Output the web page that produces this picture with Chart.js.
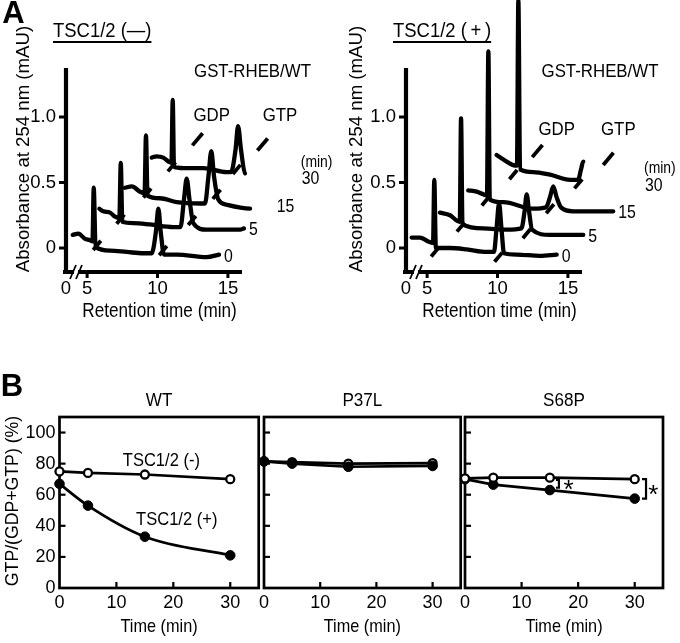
<!DOCTYPE html>
<html><head><meta charset="utf-8">
<script src="https://cdn.jsdelivr.net/npm/chart.js@4.4.1/dist/chart.umd.min.js"></script>
<style>
html,body{margin:0;padding:0;background:#fff;width:680px;height:643px;overflow:hidden;}
canvas{position:absolute;}
</style></head><body>
<canvas id="a1" width="340" height="330" style="left:0;top:0"></canvas>
<canvas id="a2" width="340" height="330" style="left:340px;top:0"></canvas>
<canvas id="b1" width="265" height="273" style="left:0;top:370px"></canvas>
<canvas id="b2" width="212" height="273" style="left:255px;top:370px"></canvas>
<canvas id="b3" width="224" height="273" style="left:456px;top:370px"></canvas>
<script>
// ---------------- DATA ----------------
// Panel A: retention time axis is broken; first tick (3.5) is labelled "0"
const retTicks = [3.5, 5, 10, 15];
const retTickLabels = ['0', '5', '10', '15'];
const absTicks = [0, 0.5, 1.0];
const absTickLabels = ['0', '0.5', '1.0'];
const traceTimes = ['0', '5', '15', '30'];

// TSC1/2 (-) traces, [retention time (offset), absorbance (offset)]
const minus0 = [[3.98,0.10],[4.37,0.11],[4.85,0.07],[5.20,0.06],[5.38,0.05],[5.47,0.46],[5.60,0.01],[6.63,-0.02],[7.81,-0.03],[8.99,-0.04],[9.59,-0.04],[9.88,0.12],[10.06,0.30],[10.23,0.12],[10.46,-0.05],[11.36,-0.05],[13.49,-0.07],[14.37,-0.05]];
const minus5 = [[5.87,0.30],[6.15,0.28],[6.63,0.27],[6.98,0.24],[7.29,0.23],[7.39,0.65],[7.50,0.20],[8.28,0.19],[9.47,0.18],[11.12,0.16],[11.63,0.16],[11.88,0.37],[12.07,0.53],[12.27,0.37],[12.54,0.19],[13.49,0.14],[15.86,0.14],[16.14,0.15]];
const minus15 = [[7.69,0.46],[8.17,0.47],[8.76,0.43],[9.08,0.42],[9.18,0.86],[9.29,0.40],[10.18,0.38],[11.36,0.35],[13.02,0.34],[13.37,0.34],[13.62,0.55],[13.82,0.74],[14.01,0.55],[14.32,0.37],[14.91,0.33],[16.57,0.30],[18.11,0.33]];
const minus30 = [[9.59,0.69],[9.94,0.70],[10.41,0.69],[10.77,0.66],[10.99,0.65],[11.08,1.13],[11.17,0.62],[11.83,0.61],[13.25,0.61],[14.91,0.58],[15.22,0.58],[15.54,0.75],[15.72,0.93],[15.93,0.75],[16.21,0.57],[16.80,0.56],[18.22,0.53],[19.89,0.54]];
// TSC1/2 (+) traces
const plus0 = [[3.90,0.08],[4.49,0.08],[5.08,0.05],[5.42,0.04],[5.51,0.52],[5.62,0.00],[6.63,0.00],[7.81,-0.01],[9.23,-0.03],[9.75,-0.03],[9.93,0.15],[10.11,0.34],[10.28,0.15],[10.46,-0.04],[11.36,-0.05],[13.02,-0.06],[14.20,-0.05]];
const plus5 = [[5.91,0.27],[6.63,0.25],[7.10,0.21],[7.32,0.20],[7.41,0.99],[7.51,0.18],[8.99,0.15],[10.65,0.14],[11.70,0.15],[11.92,0.28],[12.07,0.41],[12.24,0.28],[12.45,0.14],[13.73,0.10],[16.09,0.10]];
const plus15 = [[7.92,0.44],[8.52,0.43],[8.99,0.41],[9.25,0.40],[9.35,1.50],[9.45,0.37],[10.41,0.35],[12.54,0.30],[13.44,0.31],[13.73,0.39],[13.96,0.47],[14.19,0.39],[14.51,0.31],[15.38,0.28],[18.22,0.28]];
const plus30 = [[9.94,0.71],[10.65,0.66],[11.24,0.63],[11.38,0.63],[11.48,1.89],[11.60,0.60],[12.54,0.58],[13.73,0.56],[15.15,0.52],[15.72,0.52],[15.93,0.60],[16.09,0.66],[16.28,0.60],[16.50,0.50],[17.28,0.48],[18.46,0.47],[20.12,0.49]];
// GDP / GTP position marks on each trace
const minusMarks = [[5.70,0.02],[10.39,-0.02],[7.37,0.22],[12.45,0.21],[9.27,0.42],[14.20,0.41],[11.01,0.62],[15.62,0.60]];
const minusLabelMarks = [[12.84,0.83],[17.46,0.79]];
const plusMarks = [[5.56,-0.03],[10.06,-0.07],[7.39,0.16],[12.07,0.11],[9.16,0.36],[13.73,0.30],[11.12,0.56],[15.74,0.49]];
const plusLabelMarks = [[12.83,0.74],[17.87,0.68]];
const peakNames = ['GDP', 'GTP'];
const minusPeakNamePos = [[13.85,1.01],[18.70,1.01]];
const plusPeakNamePos = [[14.20,0.90],[18.58,0.90]];

// Panel B
const timePoints = [0, 5, 15, 30];
const timeTicks = [0, 10, 20, 30];
const pctTicks = [0, 20, 40, 60, 80, 100];
const wtMinus = [75, 74, 73, 70];
const wtPlus = [67, 53, 33, 21];
const p37lMinus = [81.5, 81, 80, 80.3];
const p37lPlus = [81.5, 80, 78, 78.5];
const s68pMinus = [70.5, 71, 71, 70];
const s68pPlus = [70, 66.5, 63, 57.5];

// ---------------- RENDERING ----------------
const FONT = '"Liberation Sans", Arial, Helvetica, sans-serif';
Chart.defaults.font.family = FONT;
Chart.defaults.color = '#000';

function seg(ctx, x1, y1, x2, y2) { ctx.beginPath(); ctx.moveTo(x1, y1); ctx.lineTo(x2, y2); ctx.stroke(); }
function slashAt(ctx, cx, cy, len) { const dx = len * 0.32, dy = len * 0.38; seg(ctx, cx - dx, cy + dy, cx + dx, cy - dy); }
// condensed text helper (reference lettering is narrower than Arial)
function txt(ctx, s, x, y, size, sx, align, opt) {
  opt = opt || {};
  ctx.save();
  ctx.translate(x, y);
  if (opt.rot) ctx.rotate(opt.rot);
  ctx.scale(sx, 1);
  ctx.font = (opt.bold ? 'bold ' : '') + size + 'px ' + FONT;
  ctx.textAlign = align; ctx.textBaseline = opt.baseline || 'middle';
  ctx.fillStyle = '#000';
  ctx.fillText(s, 0, 0);
  const w = ctx.measureText(s).width * sx;
  ctx.restore();
  return w;
}

const panelAPlugin = {
  id: 'panelA',
  afterDatasetsDraw(chart, args, o) {
    const { ctx, chartArea: ca, scales: { x, y } } = chart;
    const X = v => x.getPixelForValue(v), Y = v => y.getPixelForValue(v);
    ctx.save();
    ctx.strokeStyle = '#000'; ctx.fillStyle = '#000'; ctx.lineCap = 'butt';
    ctx.lineWidth = 4.2;
    seg(ctx, ca.left, ca.top, ca.left, ca.bottom + 2);
    seg(ctx, ca.left - 3, ca.bottom, ca.right, ca.bottom);
    ctx.lineWidth = 3;
    absTicks.forEach(v => seg(ctx, ca.left - 7, Y(v), ca.left, Y(v)));
    retTicks.slice(1).forEach(v => seg(ctx, X(v), ca.bottom, X(v), ca.bottom + 6));
    // axis break
    ctx.fillStyle = '#fff';
    ctx.fillRect(ca.left + 8, ca.bottom - 3, 4, 6);
    ctx.lineWidth = 1.8;
    seg(ctx, ca.left + 4, ca.bottom + 7, ca.left + 10, ca.bottom - 7);
    seg(ctx, ca.left + 10, ca.bottom + 7, ca.left + 16, ca.bottom - 7);
    // peak marks
    ctx.lineWidth = 3.8;
    o.marks.forEach(p => slashAt(ctx, X(p[0]), Y(p[1]), 12));
    o.labelMarks.forEach(p => slashAt(ctx, X(p[0]), Y(p[1]), 16));
    o.peakPos.forEach((p, i) => txt(ctx, peakNames[i], X(p[0]), Y(p[1]), 18.5, 0.91, 'center'));
    txt(ctx, 'GST-RHEB/WT', o.gstX, 71.5, 18.5, 0.91, 'center');
    // trace labels
    const n = chart.data.datasets.length;
    chart.data.datasets.forEach((ds, i) => {
      const pts = chart.getDatasetMeta(i).data;
      const last = pts[pts.length - 1];
      txt(ctx, traceTimes[i], last.x + 5, last.y + 2, 18, 0.88, 'left');
      if (i === n - 1) txt(ctx, '(min)', last.x + 4, last.y - 15, 16, 0.87, 'left');
    });
    // axis titles
    txt(ctx, 'Retention time (min)', 159.5, 312, 19.5, 0.88, 'center');
    txt(ctx, 'Absorbance at 254 nm (mAU)', o.yTitleX, 149, 19, 0.98, 'center', { rot: -Math.PI / 2 });
    // title with underline
    const w = txt(ctx, o.title, 53, 31, 20.5, 0.9, 'left');
    ctx.lineWidth = 2;
    seg(ctx, 53, 42, 53 + w, 42);
    if (o.letter) txt(ctx, o.letter, 13.5, 14.5, 31, 1, 'center', { bold: true });
    ctx.restore();
  }
};

function makeA(id, traces, o) {
  new Chart(document.getElementById(id), {
    type: 'line',
    data: { datasets: traces.map(t => ({
      data: t.map(p => ({ x: p[0], y: p[1] })),
      borderColor: '#000', borderWidth: 4.3, pointRadius: 0, fill: false,
      cubicInterpolationMode: 'monotone', clip: false,
      borderJoinStyle: 'round', borderCapStyle: 'round'
    })) },
    options: {
      responsive: false, animation: false, devicePixelRatio: 1, events: [],
      layout: { padding: { left: 0, top: 68, right: 98, bottom: 0 } },
      elements: { line: { capBezierPoints: false } },
      plugins: { legend: { display: false }, tooltip: { enabled: false }, panelA: o },
      scales: {
        x: { type: 'linear', min: 3.5, max: 16, grid: { display: false, drawTicks: false }, border: { display: false },
          afterBuildTicks: s => { s.ticks = retTicks.map(v => ({ value: v })); },
          afterFit: s => { s.height = 58; },
          ticks: { autoSkip: false, maxRotation: 0, padding: 6, font: { size: 18.5 }, color: '#000',
            callback: (v, i) => retTickLabels[i] } },
        y: { type: 'linear', min: -0.183, max: 1.374, grid: { display: false, drawTicks: false }, border: { display: false },
          afterBuildTicks: s => { s.ticks = absTicks.map(v => ({ value: v })); },
          afterFit: s => { s.width = 66; },
          ticks: { autoSkip: false, padding: 10, font: { size: 18.5 }, color: '#000',
            callback: (v, i) => absTickLabels[i] } }
      }
    },
    plugins: [panelAPlugin]
  });
}

makeA('a1', [minus0, minus5, minus15, minus30], {
  letter: 'A', title: 'TSC1/2 (\u2014)', gstX: 252.5, yTitleX: 24,
  marks: minusMarks, labelMarks: minusLabelMarks, peakPos: minusPeakNamePos
});
makeA('a2', [plus0, plus5, plus15, plus30], {
  letter: null, title: 'TSC1/2 (\u2009+\u2009)', gstX: 260, yTitleX: 17,
  marks: plusMarks, labelMarks: plusLabelMarks, peakPos: plusPeakNamePos
});

const panelBPlugin = {
  id: 'panelB',
  beforeDatasetsDraw(chart, args, o) {
    const { ctx, chartArea: ca, scales: { x, y } } = chart;
    ctx.save();
    ctx.strokeStyle = '#000'; ctx.lineWidth = 2.7;
    ctx.strokeRect(ca.left, ca.top, ca.right - ca.left, ca.bottom - ca.top);
    ctx.lineWidth = 2.2;
    pctTicks.forEach(v => { if (v === 0) return; const py = y.getPixelForValue(v); seg(ctx, ca.left, py, ca.left + 6, py); });
    timeTicks.forEach(v => { if (v === 0) return; const px = x.getPixelForValue(v); seg(ctx, px, ca.bottom, px, ca.bottom - 6); });
    ctx.restore();
  },
  afterDatasetsDraw(chart, args, o) {
    const { ctx, chartArea: ca, scales: { x, y } } = chart;
    const X = v => x.getPixelForValue(v), Y = v => y.getPixelForValue(v);
    const mid = (ca.left + ca.right) / 2;
    ctx.save();
    ctx.fillStyle = '#000'; ctx.strokeStyle = '#000';
    txt(ctx, o.title, mid, 31, 18, 0.95, 'center');
    txt(ctx, 'Time (min)', mid, 257, 18.5, 0.88, 'center');
    (o.labels || []).forEach(l => txt(ctx, l.t, X(l.x), Y(l.y), 19, 0.87, 'center'));
    if (o.letter) {
      txt(ctx, o.letter, 12, 17.5, 31, 1, 'center', { bold: true });
      txt(ctx, 'GTP/(GDP+GTP) (%)', 12.5, 131, 19, 0.93, 'center', { rot: -Math.PI / 2 });
    }
    (o.brackets || []).forEach(b => {
      const bx = X(b.x), y1 = Y(b.y1), y2 = Y(b.y2);
      ctx.lineWidth = 2.2;
      ctx.beginPath();
      ctx.moveTo(bx - b.arm, y1); ctx.lineTo(bx, y1); ctx.lineTo(bx, y2); ctx.lineTo(bx - b.arm, y2);
      ctx.stroke();
      txt(ctx, '*', X(b.sx), (y1 + y2) / 2 + 14, 26, 1, 'center', { baseline: 'alphabetic' });
    });
    ctx.restore();
  }
};

function openDS(vals) {
  return { data: timePoints.map((t, i) => ({ x: t, y: vals[i] })), borderColor: '#000', borderWidth: 2.7,
    pointRadius: 4, pointBorderWidth: 2.3, pointBackgroundColor: '#fff', pointBorderColor: '#000',
    tension: 0, clip: false, fill: false };
}
function filledDS(vals, smooth) {
  const d = { data: timePoints.map((t, i) => ({ x: t, y: vals[i] })), borderColor: '#000', borderWidth: 2.7,
    pointRadius: 4.8, pointBorderWidth: 1, pointBackgroundColor: '#000', pointBorderColor: '#000',
    tension: 0, clip: false, fill: false };
  if (smooth) d.cubicInterpolationMode = 'monotone';
  return d;
}

function makeB(id, datasets, o) {
  new Chart(document.getElementById(id), {
    type: 'line',
    data: { datasets },
    options: {
      responsive: false, animation: false, devicePixelRatio: 1, events: [],
      layout: { padding: { left: o.padL, top: 47, right: o.padR, bottom: 0 } },
      elements: { line: { capBezierPoints: false } },
      plugins: { legend: { display: false }, tooltip: { enabled: false }, panelB: o },
      scales: {
        x: { type: 'linear', min: 0, max: 35, grid: { display: false, drawTicks: false }, border: { display: false },
          afterBuildTicks: s => { s.ticks = timeTicks.map(v => ({ value: v })); },
          afterFit: s => { s.height = 55; },
          ticks: { autoSkip: false, maxRotation: 0, padding: 4, font: { size: 18 }, color: '#000',
            callback: v => String(v) } },
        y: { type: 'linear', display: o.showY, min: 0, max: 110, grid: { display: false, drawTicks: false }, border: { display: false },
          afterBuildTicks: s => { s.ticks = pctTicks.map(v => ({ value: v })); },
          afterFit: s => { s.width = o.showY ? 59.5 : 0; },
          ticks: { autoSkip: false, padding: 4, font: { size: 18 }, color: '#000', callback: v => String(v) } }
      }
    },
    plugins: [panelBPlugin]
  });
}

makeB('b1', [openDS(wtMinus), filledDS(wtPlus, true)], {
  showY: true, padL: 0, padR: 4, title: 'WT', letter: 'B',
  labels: [{ t: 'TSC1/2 (-)', x: 17.9, y: 81.9 }, { t: 'TSC1/2 (+)', x: 20.6, y: 43.9 }]
});
makeB('b2', [filledDS(p37lPlus), openDS(p37lMinus)], {
  showY: false, padL: 6, padR: 5, title: 'P37L'
});
makeB('b3', [openDS(s68pMinus), filledDS(s68pPlus)], {
  showY: false, padL: 6, padR: 17, title: 'S68P',
  brackets: [
    { x: 32.0, y1: s68pMinus[3], y2: s68pPlus[3], arm: 4, sx: 33.3 },
    { x: 16.6, y1: 69.5, y2: 64.5, arm: 3, sx: 18.3 }
  ]
});
</script>
</body></html>
